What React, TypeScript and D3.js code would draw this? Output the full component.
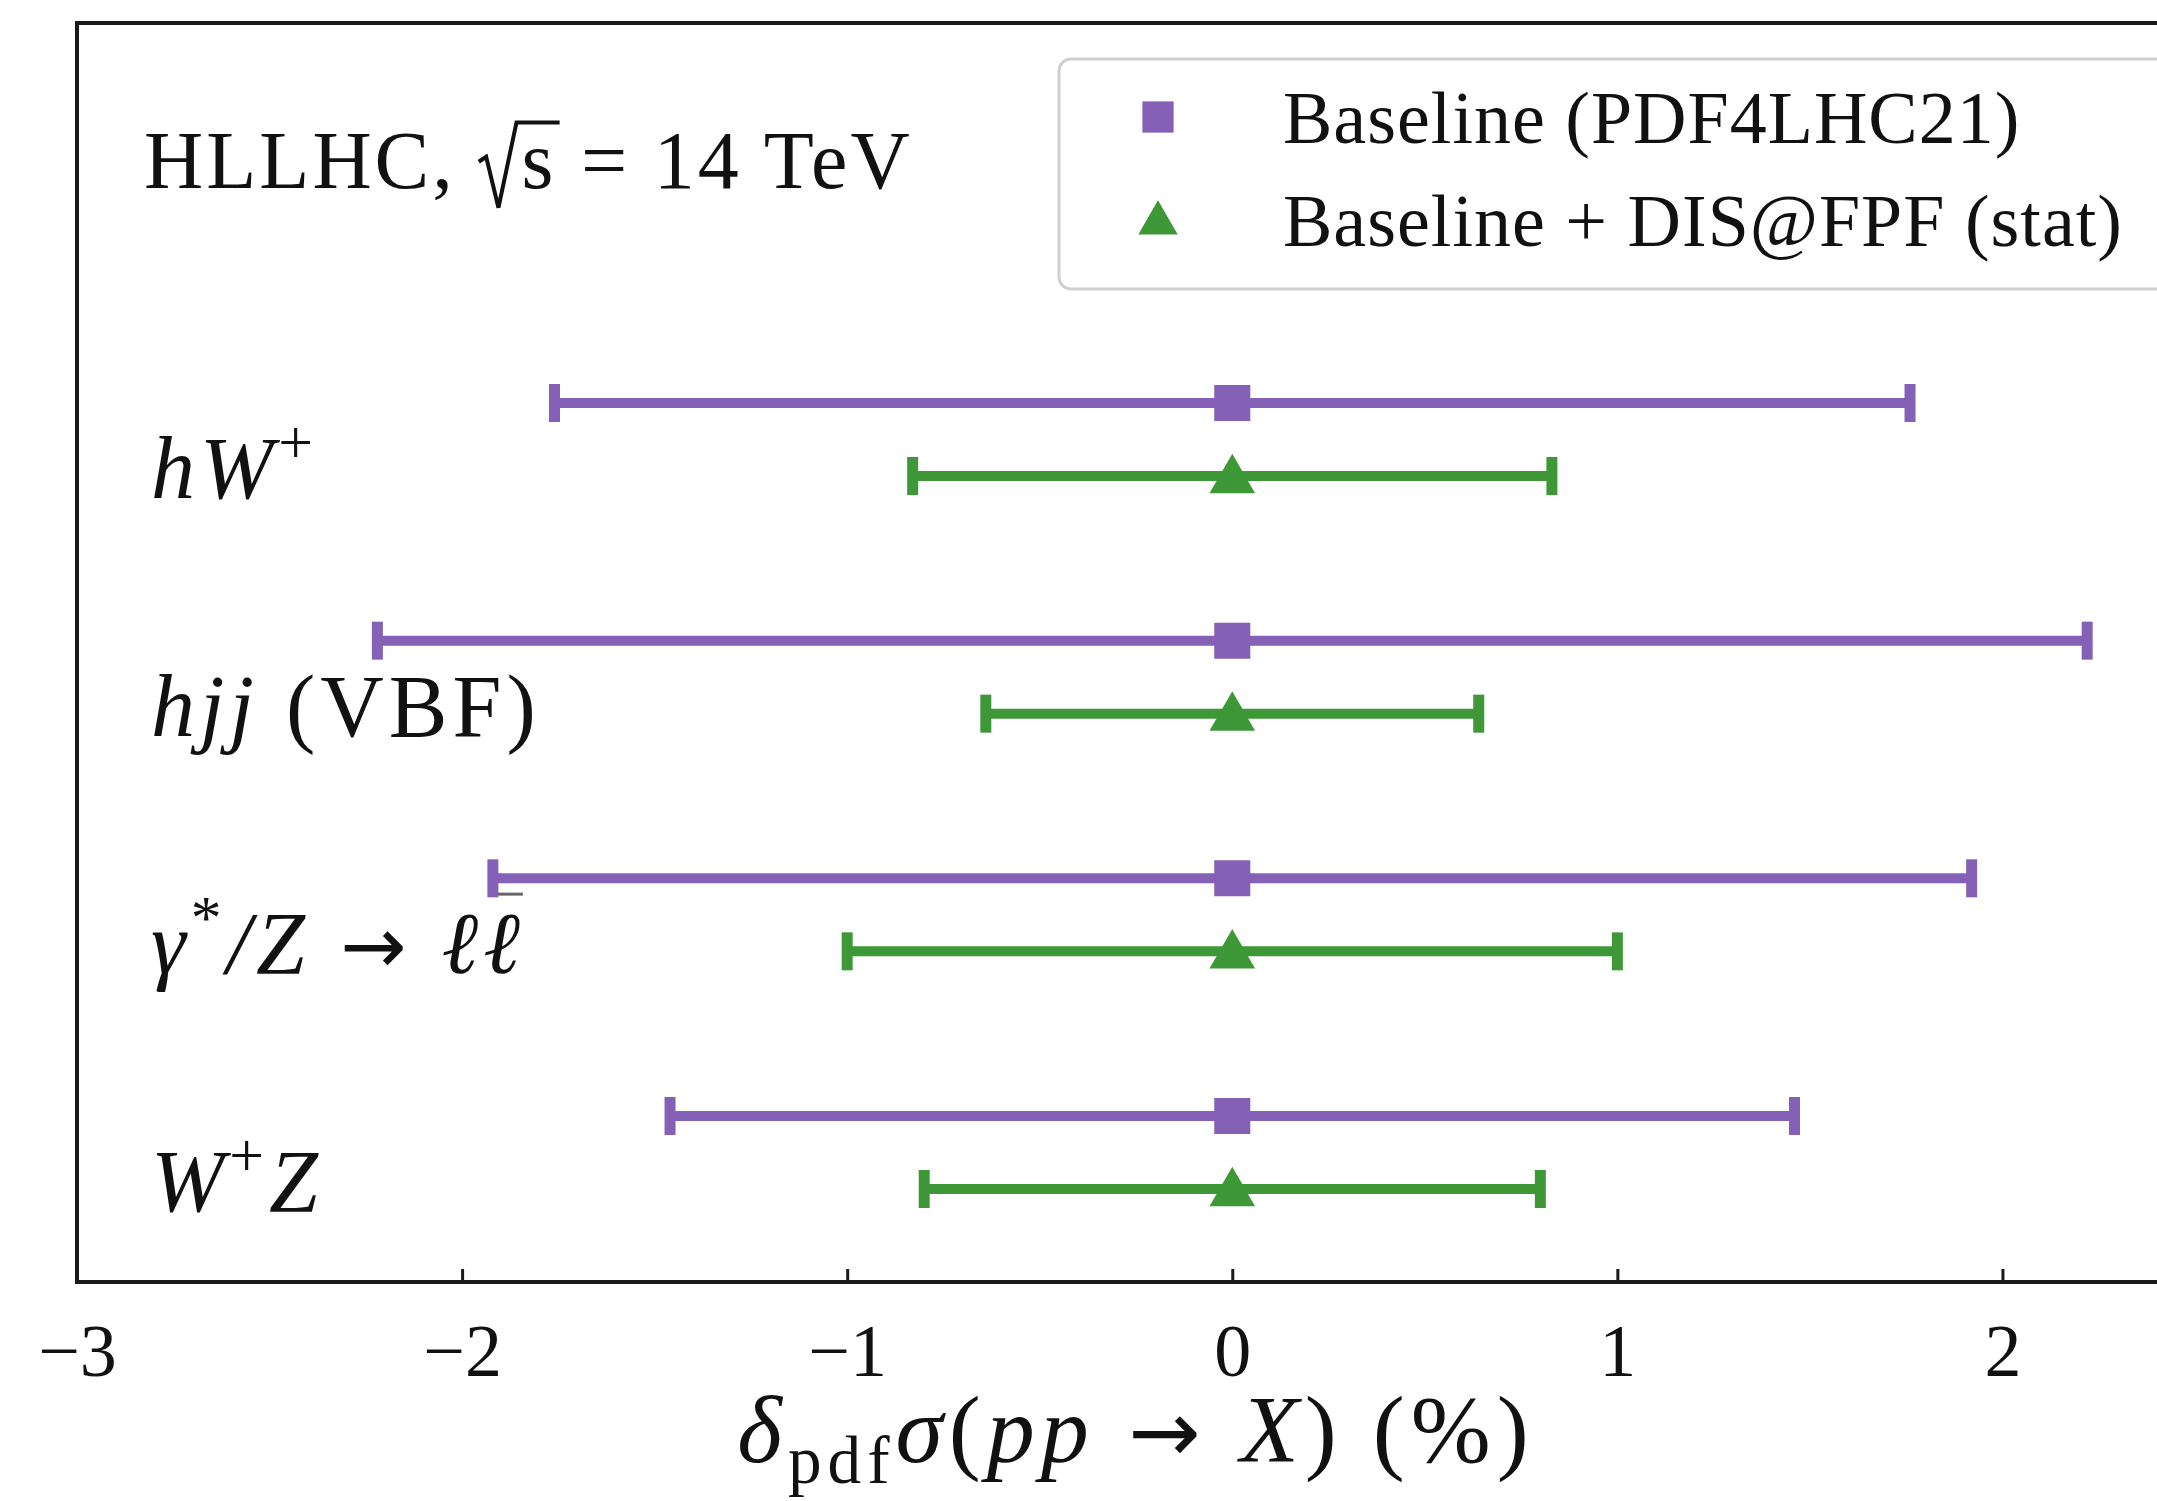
import React, { useEffect, useRef } from 'react';
import { select, scaleLinear, scalePoint, axisBottom, symbol, symbolSquare, symbolTriangle } from 'd3';

// processes (top to bottom)
const categories = ['hW+', 'hjj (VBF)', 'gZll', 'W+Z'];
// symmetric PDF uncertainties in %
const baselineErr = [1.76, 2.22, 1.92, 1.46];
const fpfErr = [0.83, 0.64, 1.0, 0.8];
const centralValues = [0, 0, 0, 0];
const xTicks = [-3, -2, -1, 0, 1, 2];

const seriesNames = ['Baseline (PDF4LHC21)', 'Baseline + DIS@FPF (stat)'];

type Part = { t: string; it?: boolean; sup?: boolean; sub?: boolean; over?: boolean; sym?: boolean };

const labelParts: Part[][] = [
  [{ t: 'hW', it: true }, { t: '+', sup: true }],
  [{ t: 'hjj', it: true }, { t: ' (VBF)' }],
  [{ t: 'γ', it: true }, { t: '*', sup: true }, { t: '/Z', it: true }, { t: ' → ', sym: true }, { t: 'ℓ', it: true }, { t: 'ℓ', it: true, over: true }],
  [{ t: 'W', it: true }, { t: '+', sup: true }, { t: 'Z', it: true }],
];

const PURPLE = '#8461b6';
const GREEN = '#3f9838';
const FONT = '"Liberation Serif", "DejaVu Serif", serif';
const SYM = '"DejaVu Sans", sans-serif';

const W = 2157;
const H = 1501;

// writes rich text parts, then draws overlines
const addParts = (svg, text, parts: Part[], size: number, overY = 0.78, overW = 3) => {
  let shift = 0;
  let idx = 0;
  const overs = [];
  parts.forEach((p) => {
    const target = p.sup ? -0.4 * size : p.sub ? 0.22 * size : 0;
    const ts = text.append('tspan').text(p.t);
    if (target !== shift) ts.attr('dy', target - shift);
    shift = target;
    if (p.it) ts.attr('font-style', 'italic');
    if (p.sup || p.sub) ts.attr('font-size', size * 0.7);
    if (p.sym) ts.attr('font-family', SYM).attr('font-size', size * 0.9);
    if (p.over) overs.push([idx, idx + p.t.length - 1]);
    idx += p.t.length;
  });
  const node = text.node();
  const baseY = +text.attr('y');
  overs.forEach(([a, b]) => {
    const x1 = node.getStartPositionOfChar(a).x;
    const x2 = node.getEndPositionOfChar(b).x;
    svg
      .append('line')
      .attr('x1', x1 + 10)
      .attr('x2', x2 - 2)
      .attr('y1', baseY - overY * size)
      .attr('y2', baseY - overY * size)
      .attr('stroke', '#666')
      .attr('stroke-width', overW);
  });
};

const App = () => {
  const svgRef = useRef(null);

  useEffect(() => {
    const svg = select(svgRef.current);
    svg.selectAll('*').remove();

    const left = 77;
    const right = 2195;
    const top = 23;
    const bottom = 1282;

    const x = scaleLinear().domain([-3, 2.5]).range([left, right]);
    const y = scalePoint().domain(categories).range([403, 1116]);
    const greenOffset = 73;

    // frame
    svg
      .append('rect')
      .attr('x', left)
      .attr('y', top)
      .attr('width', right - left)
      .attr('height', bottom - top)
      .attr('fill', 'none')
      .attr('stroke', '#1a1a1a')
      .attr('stroke-width', 4);

    // x axis, ticks pointing inwards
    const xAxis = axisBottom(x)
      .tickValues(xTicks)
      .tickSizeInner(-13)
      .tickSizeOuter(0)
      .tickPadding(24)
      .tickFormat((d) => (d < 0 ? '\u2212' + Math.abs(d) : String(d)));

    const gx = svg.append('g').attr('transform', `translate(0,${bottom})`).call(xAxis);
    gx.select('.domain').remove();
    gx.selectAll('.tick line').attr('stroke', '#1a1a1a').attr('stroke-width', 3);
    gx.selectAll('.tick text')
      .attr('font-family', FONT)
      .attr('font-size', 74)
      .attr('fill', '#111')
      .attr('dy', '0.95em');

    // x label
    const xl = svg
      .append('text')
      .attr('x', x(-0.25))
      .attr('y', 1462)
      .attr('text-anchor', 'middle')
      .attr('font-family', FONT)
      .attr('font-size', 96)
      .attr('letter-spacing', 6)
      .attr('fill', '#111');
    addParts(
      svg,
      xl,
      [
        { t: 'δ', it: true },
        { t: 'pdf', sub: true },
        { t: 'σ', it: true },
        { t: '(' },
        { t: 'pp', it: true },
        { t: '  →  ', sym: true },
        { t: 'X', it: true },
        { t: ') (%)' },
      ],
      96
    );

    // title with a drawn radical
    const tSize = 82;
    const tY = 188;
    const mk = (xx, str, italic = false) =>
      svg
        .append('text')
        .attr('x', xx)
        .attr('y', tY)
        .attr('font-family', FONT)
        .attr('font-size', tSize)
        .attr('letter-spacing', 3)
        .attr('font-style', italic ? 'italic' : 'normal')
        .attr('fill', '#111')
        .text(str);
    const t1 = mk(144, 'HLLHC,');
    const r0 = 144 + t1.node().getComputedTextLength() + 0.28 * tSize;
    const sx = r0 + 0.52 * tSize;
    const t2 = mk(sx, 's');
    const sEnd = sx + t2.node().getComputedTextLength();
    svg
      .append('path')
      .attr(
        'd',
        `M${r0},${tY - 0.32 * tSize} L${r0 + 0.09 * tSize},${tY - 0.38 * tSize} L${r0 + 0.24 * tSize},${tY + 0.24 * tSize} L${r0 + 0.46 * tSize},${tY - 0.8 * tSize} L${sEnd + 0.04 * tSize},${tY - 0.8 * tSize}`
      )
      .attr('fill', 'none')
      .attr('stroke', '#111')
      .attr('stroke-width', 4)
      .attr('stroke-linejoin', 'miter');
    mk(sEnd + 0.3 * tSize, '= 14 TeV');

    // category labels
    categories.forEach((c, i) => {
      const t = svg
        .append('text')
        .attr('x', 151)
        .attr('y', y(c) + greenOffset + 22)
        .attr('font-family', FONT)
        .attr('font-size', 88)
        .attr('letter-spacing', 5)
        .attr('fill', '#111');
      addParts(svg, t, labelParts[i], 88, 0.9, 3);
    });

    const series = [
      { err: baselineErr, color: PURPLE, shape: symbolSquare, size: 1300, dy: 0 },
      { err: fpfErr, color: GREEN, shape: symbolTriangle, size: 900, dy: greenOffset },
    ];

    series.forEach((s) => {
      const g = svg.append('g');
      categories.forEach((c, i) => {
        const yy = y(c) + s.dy;
        const lo = x(centralValues[i] - s.err[i]);
        const hi = x(centralValues[i] + s.err[i]);
        g.append('line')
          .attr('x1', lo)
          .attr('x2', hi)
          .attr('y1', yy)
          .attr('y2', yy)
          .attr('stroke', s.color)
          .attr('stroke-width', 10);
        [lo, hi].forEach((xx) =>
          g
            .append('line')
            .attr('x1', xx)
            .attr('x2', xx)
            .attr('y1', yy - 19)
            .attr('y2', yy + 19)
            .attr('stroke', s.color)
            .attr('stroke-width', 11)
        );
        g.append('path')
          .attr('d', symbol(s.shape, s.size)())
          .attr('transform', `translate(${x(centralValues[i])},${yy + (s.shape === symbolTriangle ? 4 : 0)})`)
          .attr('fill', s.color);
      });
    });

    // legend
    const lg = svg.append('g');
    lg.append('rect')
      .attr('x', 1059)
      .attr('y', 59)
      .attr('width', 1120)
      .attr('height', 230)
      .attr('rx', 12)
      .attr('fill', 'white')
      .attr('fill-opacity', 0.85)
      .attr('stroke', '#cfcfcf')
      .attr('stroke-width', 3);
    series.forEach((s, i) => {
      const yy = 117 + i * 103;
      lg.append('path')
        .attr('d', symbol(s.shape, s.size * 0.75)())
        .attr('transform', `translate(1158,${yy + (s.shape === symbolTriangle ? 3 : 0)})`)
        .attr('fill', s.color);
      lg.append('text')
        .attr('x', 1283)
        .attr('y', yy)
        .attr('dy', '0.35em')
        .attr('font-family', FONT)
        .attr('font-size', 74)
        .attr('letter-spacing', 1)
        .attr('fill', '#111')
        .text(seriesNames[i]);
    });
  }, []);

  return (
    <svg
      ref={svgRef}
      width={W}
      height={H}
      style={{ position: 'absolute', left: 0, top: 0, background: 'white' }}
    ></svg>
  );
};

export default App;
